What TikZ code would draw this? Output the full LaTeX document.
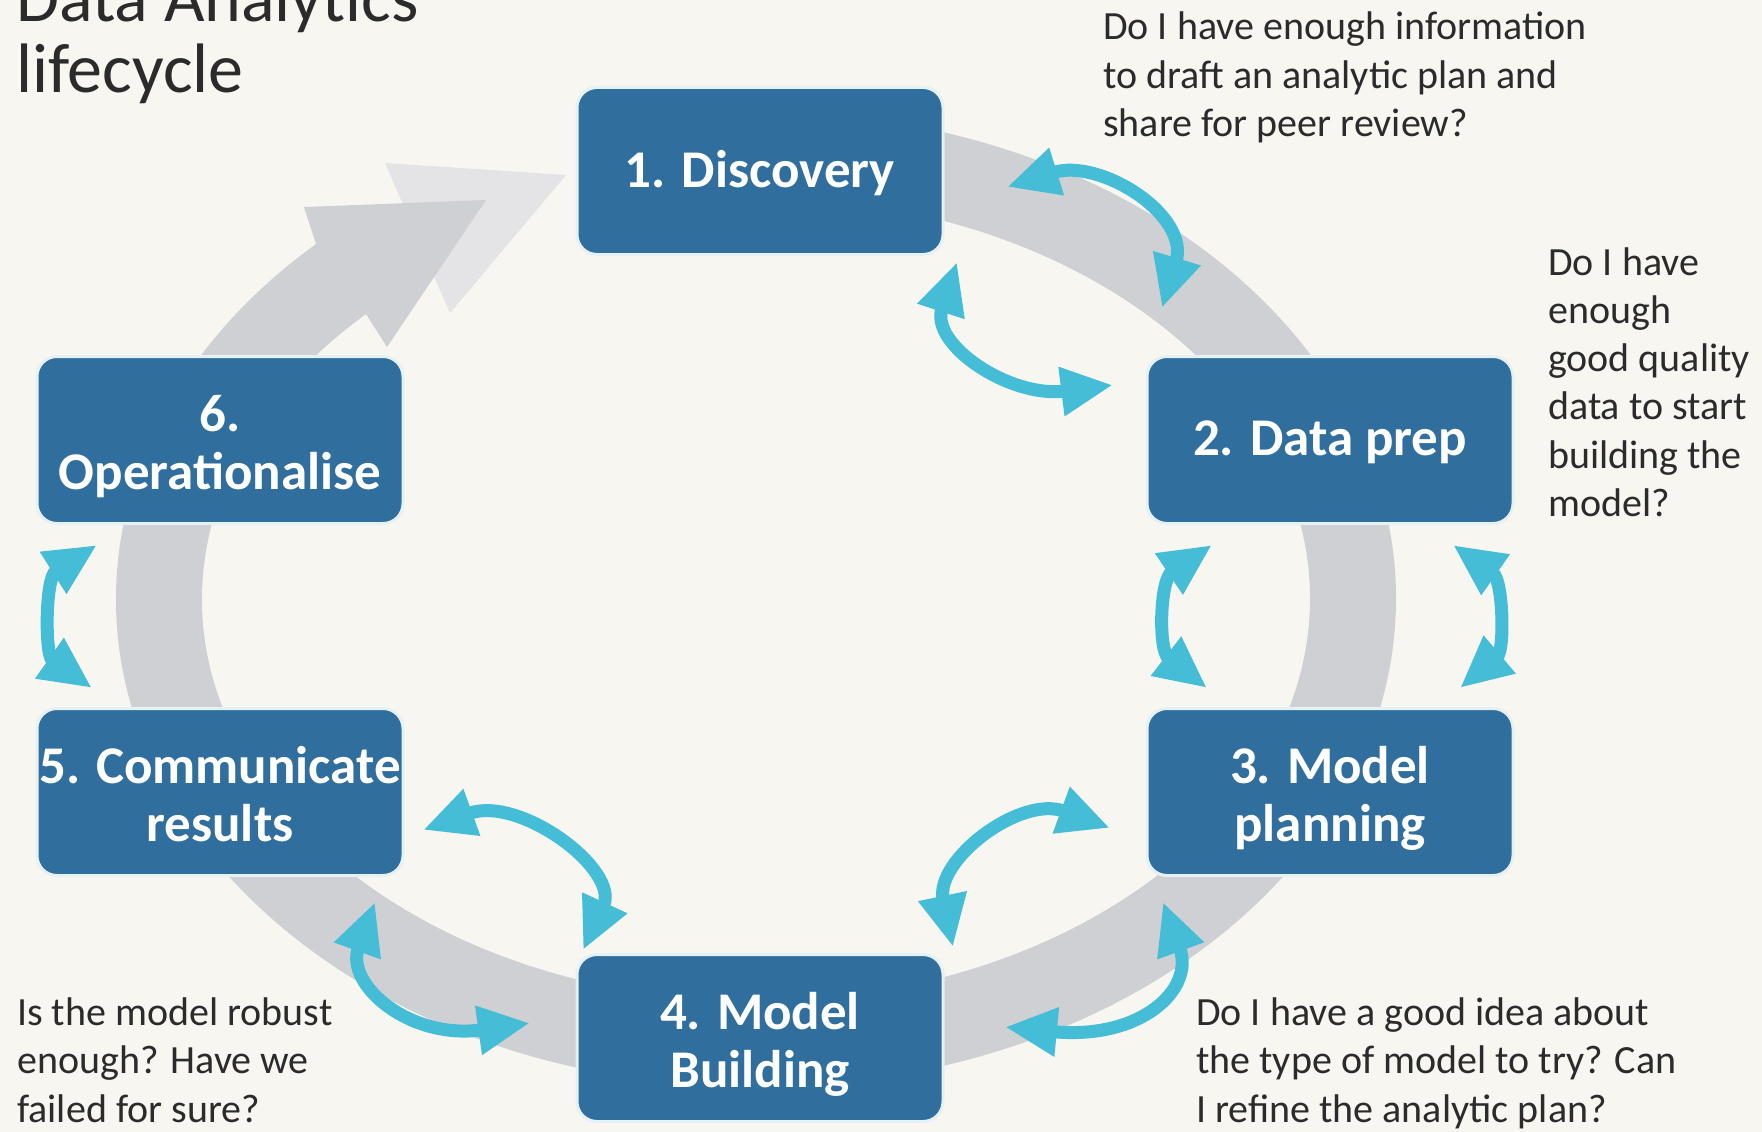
\documentclass[tikz,border=0pt]{standalone}
\usepackage{fontspec}
\setmainfont{Carlito}
\usetikzlibrary{arrows.meta}
\definecolor{bg}{HTML}{F7F6F1}
\definecolor{ringgrey}{HTML}{CFD0D3}
\definecolor{ghostgrey}{HTML}{E4E4E7}
\definecolor{boxblue}{HTML}{2F6E9D}
\definecolor{halo}{HTML}{E6F1F5}
\definecolor{cyanarrow}{HTML}{45BDD6}
\definecolor{txt}{HTML}{2B2B2B}
\newcommand\twoline[2]{\vtop{\halign{\hfil##\hfil\cr #1\cr #2\cr}}}
\newcommand\notelines[1]{\vtop{\halign{##\hfil\cr #1\crcr}}}
\tikzset{
  stage/.style={draw=halo, line width=3pt, fill=boxblue, rounded corners=20pt,
    minimum width=366pt, minimum height=167pt, inner sep=0pt},
  lab/.style={text=white, font=\fontsize{53}{58}\selectfont\bfseries, inner sep=0pt, anchor=base},
  cyc/.style={draw=cyanarrow, line width=13pt,
    {Triangle[length=52pt,width=46pt]}-{Triangle[length=52pt,width=46pt]}},
  note/.style={text=txt, font=\fontsize{40}{48.5}\selectfont, inner sep=0pt, anchor=base west},
  titletext/.style={text=txt, font=\fontsize{70}{71}\selectfont, inner sep=0pt, anchor=base west},
}
\begin{document}
\begin{tikzpicture}[x=1pt,y=-1pt]
\useasboundingbox (0,0) rectangle (1762,1132);
\fill[bg] (0,0) rectangle (1762,1132);
% ghost arrowhead
\fill[ghostgrey] (385,163) -- (566,175) -- (450,313) -- cycle;
% grey cycle ring
\draw[ringgrey, line width=86pt] ([shift={(-85:597 and 445)}]756,599)
  arc[start angle=-85, end angle=228, x radius=597, y radius=445];
\fill[ringgrey] (316,244) -- (304,207) -- (486,200) -- (387,347) -- (366,314) -- cycle;
% stages
\node[stage] (s1) at (760,171) {};
\node[stage] (s2) at (1330,440) {};
\node[stage] (s3) at (1330,792) {};
\node[stage] (s4) at (760,1038) {};
\node[stage] (s5) at (220,792) {};
\node[stage] (s6) at (220,440) {};
\node[lab] (l1) at (760,187) {1. Discovery};
\node[lab] (l2) at (1330,455) {2. Data prep};
\node[lab] (l3) at (1330,783) {\twoline{3. Model}{planning}};
\node[lab] (l4) at (760,1029) {\twoline{4. Model}{Building}};
\node[lab] (l5) at (220,783) {\twoline{5. Communicate}{results}};
\node[lab] (l6) at (220,431) {\twoline{6.}{Operationalise}};
% cyan double arrows
\coordinate (a1) at (1007,187); \coordinate (a2) at (1162,308);
\coordinate (b1) at (957,262);  \coordinate (b2) at (1113,385);
\coordinate (c1) at (1212,545); \coordinate (c2) at (1207,688);
\coordinate (d1) at (1453,545); \coordinate (d2) at (1460,688);
\coordinate (e1) at (1110,828); \coordinate (e2) at (953,947);
\coordinate (f1) at (1163,902); \coordinate (f2) at (1005,1027);
\coordinate (g1) at (423,830);  \coordinate (g2) at (583,950);
\coordinate (h1) at (375,902);  \coordinate (h2) at (530,1023);
\coordinate (i1) at (97,545);   \coordinate (i2) at (92,688);
\draw[cyc] (a1) .. controls (1100,158) and (1190,215) .. (a2);
\draw[cyc] (b1) .. controls (930,345) and (1010,398) .. (b2);
\draw[cyc] (c1) .. controls (1160,580) and (1158,650) .. (c2);
\draw[cyc] (d1) .. controls (1503,580) and (1505,650) .. (d2);
\draw[cyc] (e1) .. controls (1020,795) and (935,860) .. (e2);
\draw[cyc] (f1) .. controls (1195,990) and (1140,1040) .. (f2);
\draw[cyc] (g1) .. controls (520,795) and (620,870) .. (g2);
\draw[cyc] (h1) .. controls (345,985) and (410,1040) .. (h2);
\draw[cyc] (i1) .. controls (45,578) and (45,655) .. (i2);
% texts
\node[titletext] (title) at (16,22) {\notelines{Data Analytics\cr lifecycle}};
\node[note] (n1) at (1103,40) {\notelines{Do I have enough information\cr to draft an analytic plan and\cr share for peer review?}};
\node[note, font=\fontsize{40}{48.3}\selectfont] (n2) at (1548,275) {\notelines{Do I have\cr enough\cr good quality\cr data to start\cr building the\cr model?}};
\node[note] (n3) at (17,1025) {\notelines{Is the model robust\cr enough? Have we\cr failed for sure?}};
\node[note] (n4) at (1196,1025) {\notelines{Do I have a good idea about\cr the type of model to try? Can\cr I refine the analytic plan?}};
\end{tikzpicture}
\end{document}
